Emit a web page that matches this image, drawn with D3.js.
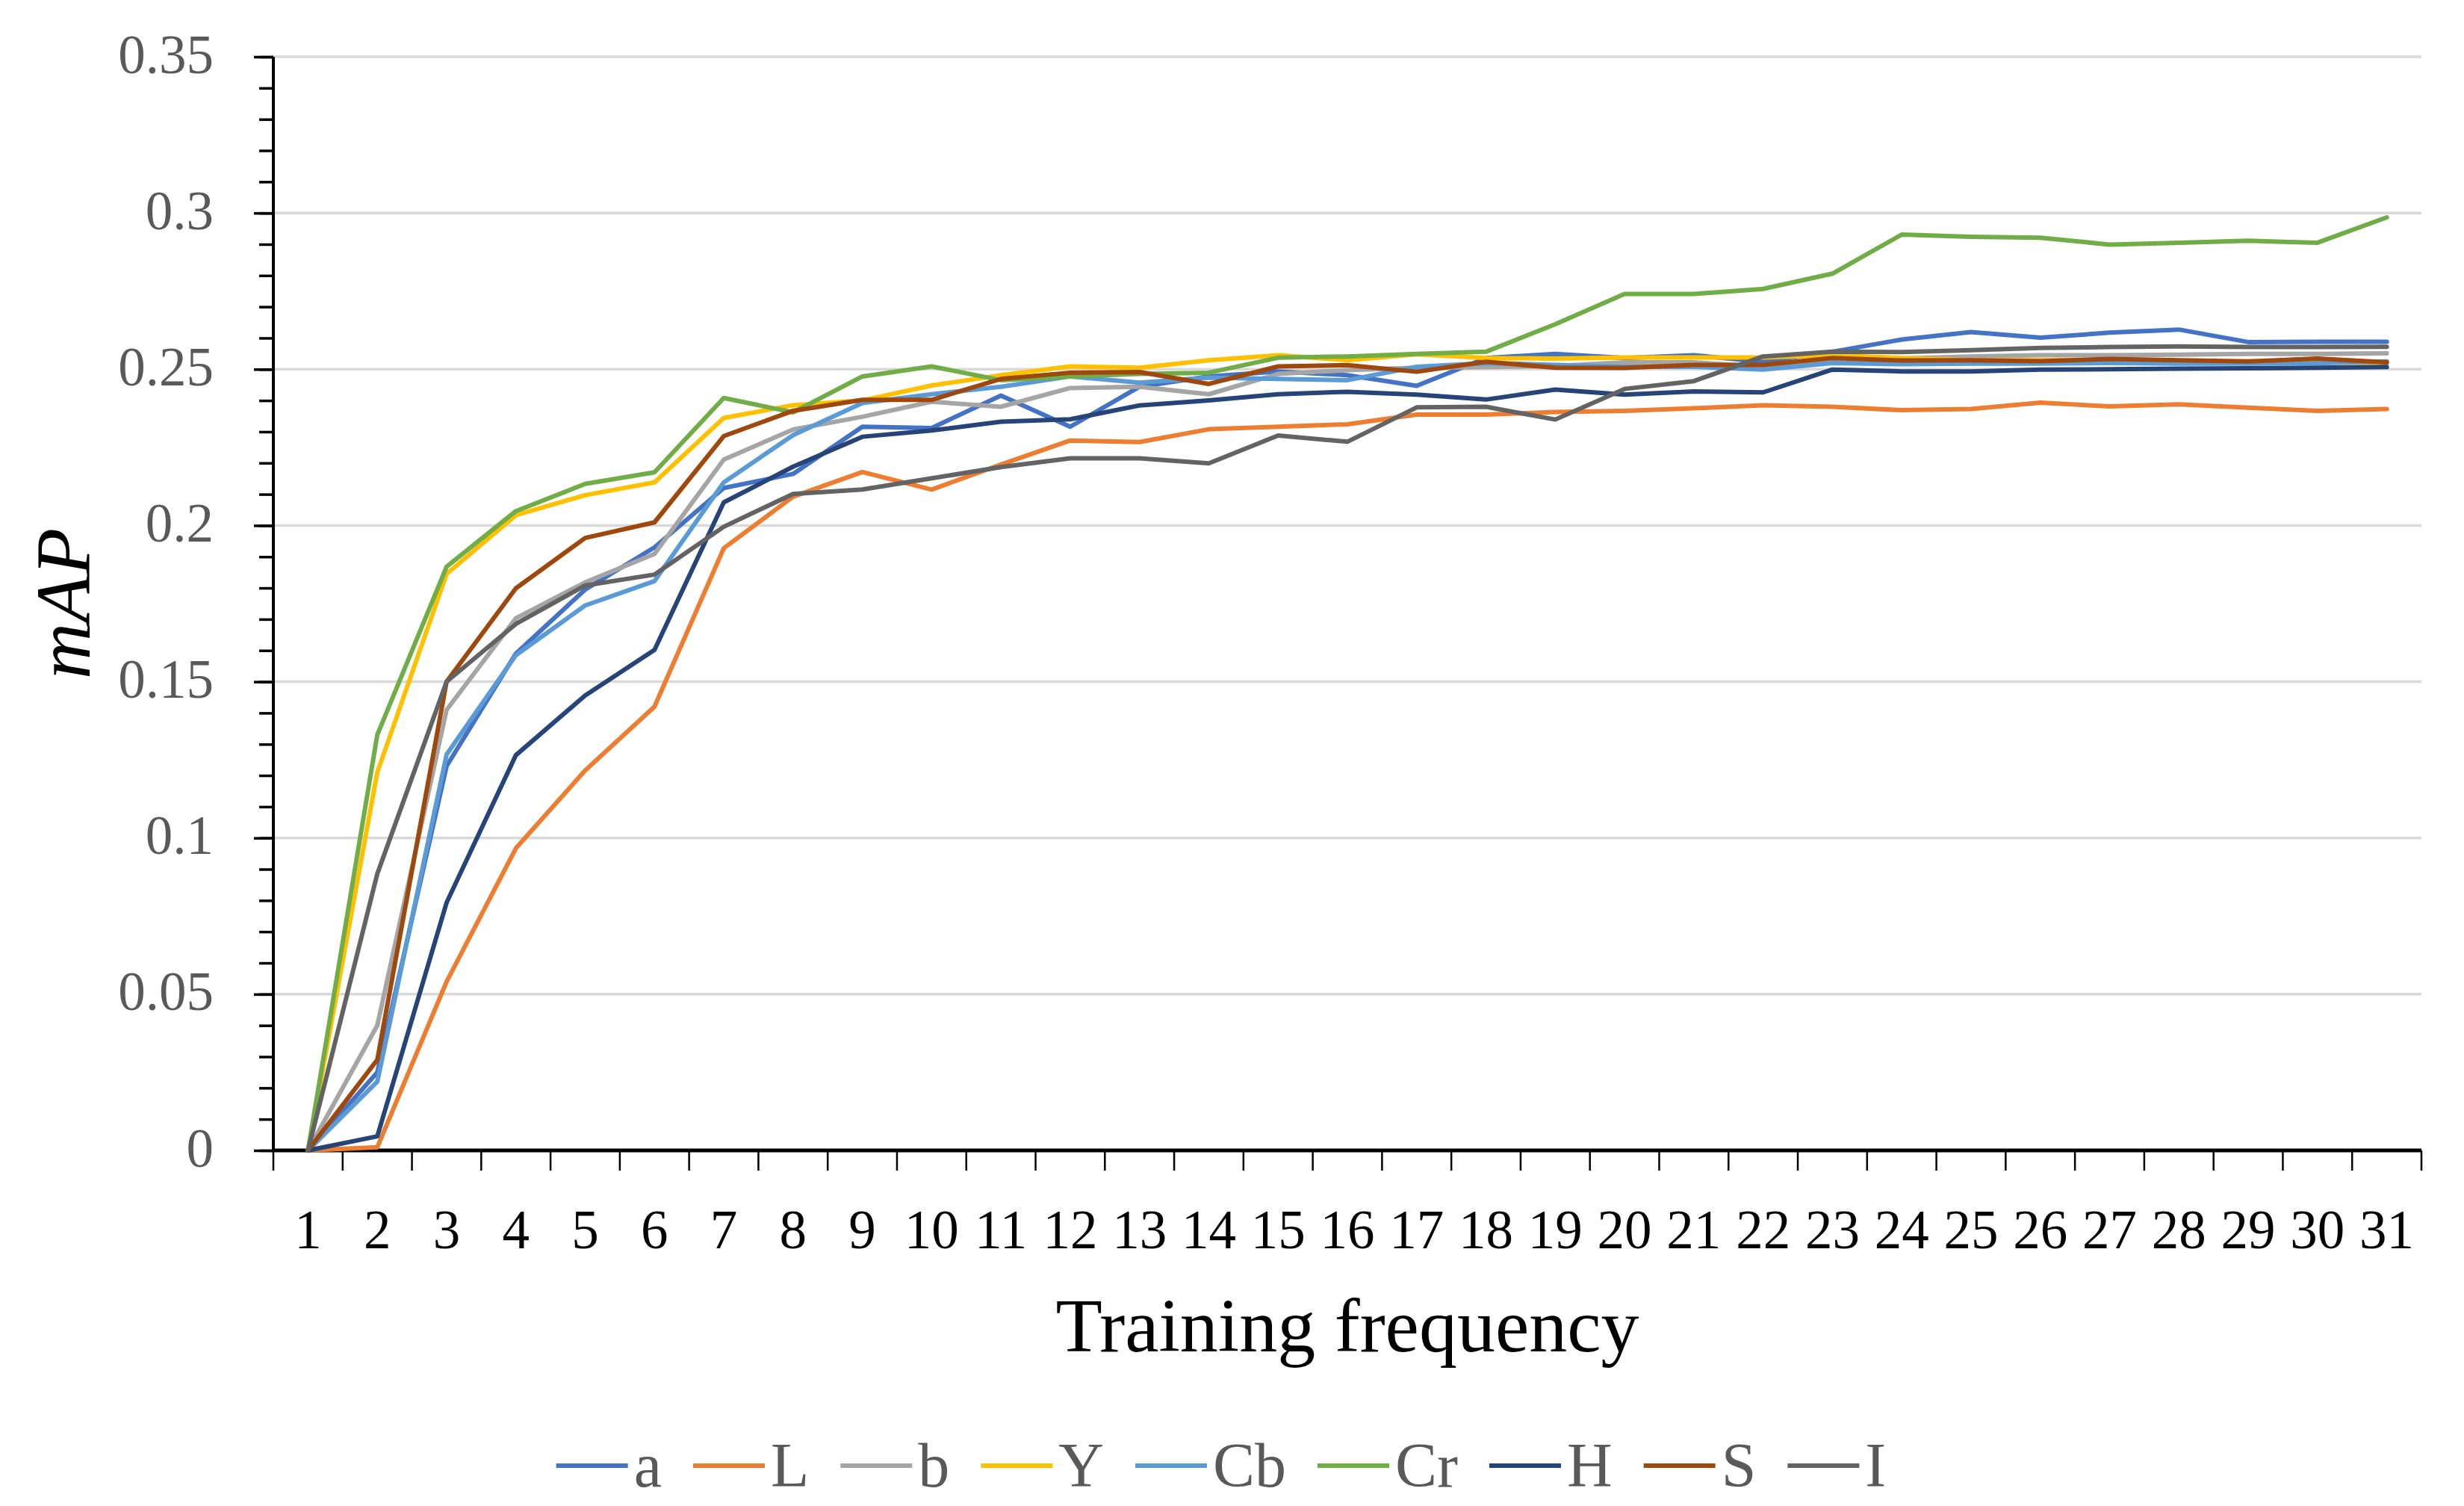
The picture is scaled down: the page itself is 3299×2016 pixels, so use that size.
<!DOCTYPE html>
<html>
<head>
<meta charset="utf-8">
<script src="https://cdn.jsdelivr.net/npm/d3@7"></script>
<style>
  html, body { margin: 0; padding: 0; background: #fff; }
  svg { display: block; }
</style>
</head>
<body>
<svg id="chart" width="3299" height="2016"></svg>
<script>
const categories = d3.range(1, 32).map(String);
const seriesNames = ["a", "L", "b", "Y", "Cb", "Cr", "H", "S", "I"];
const seriesColors = ["#4472C4", "#ED7D31", "#A5A5A5", "#FFC000", "#5B9BD5", "#70AD47", "#264478", "#9E480E", "#636363"];
const yTicks = [0, 0.05, 0.1, 0.15, 0.2, 0.25, 0.3, 0.35];
const yTickLabels = ["0", "0.05", "0.1", "0.15", "0.2", "0.25", "0.3", "0.35"];

const a_vals  = [0, 0.025, 0.123, 0.159, 0.1795, 0.193, 0.212, 0.2165, 0.2316, 0.2312, 0.2416, 0.2316, 0.2444, 0.2477, 0.2493, 0.2481, 0.2447, 0.2536, 0.2549, 0.2536, 0.2545, 0.2524, 0.2556, 0.2595, 0.2619, 0.2601, 0.2617, 0.2627, 0.2587, 0.2588, 0.2588];
const L_vals  = [0, 0.001, 0.054, 0.0967, 0.1216, 0.142, 0.1927, 0.2092, 0.2171, 0.2115, 0.2195, 0.2272, 0.2267, 0.2308, 0.2316, 0.2324, 0.2355, 0.2355, 0.2363, 0.2367, 0.2375, 0.2385, 0.238, 0.2369, 0.2373, 0.2393, 0.2381, 0.2388, 0.2377, 0.2367, 0.2373];
const b_vals  = [0, 0.040, 0.141, 0.1703, 0.1818, 0.1909, 0.2211, 0.2307, 0.2348, 0.2396, 0.238, 0.244, 0.2444, 0.242, 0.2485, 0.2497, 0.2505, 0.2507, 0.251, 0.2522, 0.2522, 0.2508, 0.253, 0.2535, 0.2541, 0.2545, 0.2545, 0.2547, 0.2549, 0.2549, 0.2551];
const Y_vals  = [0, 0.121, 0.1845, 0.2033, 0.2097, 0.2138, 0.2344, 0.2385, 0.240, 0.2448, 0.2481, 0.2509, 0.2505, 0.2529, 0.2545, 0.2529, 0.2548, 0.2536, 0.2534, 0.2538, 0.2538, 0.2538, 0.2545, 0.2536, 0.2529, 0.2529, 0.253, 0.2526, 0.2524, 0.2522, 0.252];
const Cb_vals = [0, 0.022, 0.1267, 0.1585, 0.1744, 0.1822, 0.2138, 0.2289, 0.2392, 0.242, 0.2444, 0.2477, 0.2457, 0.2473, 0.2469, 0.2465, 0.2508, 0.252, 0.2514, 0.2508, 0.2508, 0.2499, 0.252, 0.2516, 0.2518, 0.2518, 0.252, 0.2518, 0.2518, 0.2519, 0.2525];
const Cr_vals = [0, 0.133, 0.1868, 0.2046, 0.2133, 0.217, 0.2408, 0.2362, 0.2477, 0.2509, 0.2465, 0.2477, 0.2485, 0.2489, 0.2537, 0.2541, 0.2549, 0.2556, 0.2644, 0.2741, 0.2741, 0.2757, 0.2806, 0.2931, 0.2924, 0.2921, 0.2899, 0.2905, 0.2911, 0.2905, 0.2986];
const H_vals  = [0, 0.0045, 0.0793, 0.1265, 0.1456, 0.1602, 0.2074, 0.2188, 0.2284, 0.2304, 0.2332, 0.234, 0.2384, 0.24, 0.242, 0.2428, 0.2419, 0.2403, 0.2435, 0.2419, 0.2429, 0.2426, 0.2499, 0.2493, 0.2493, 0.2499, 0.250, 0.2502, 0.2503, 0.2505, 0.2507];
const S_vals  = [0, 0.029, 0.150, 0.1799, 0.196, 0.201, 0.2286, 0.2367, 0.2402, 0.2402, 0.2469, 0.2489, 0.2491, 0.2453, 0.2509, 0.2513, 0.2492, 0.2524, 0.2505, 0.2504, 0.2514, 0.2514, 0.2536, 0.2528, 0.2529, 0.2526, 0.2533, 0.2529, 0.2525, 0.2534, 0.2522];
const I_vals  = [0, 0.0885, 0.150, 0.1685, 0.1808, 0.1843, 0.1996, 0.2101, 0.2115, 0.2151, 0.2187, 0.2215, 0.2215, 0.2199, 0.2288, 0.2268, 0.2378, 0.238, 0.2339, 0.2437, 0.2462, 0.2541, 0.2556, 0.2555, 0.2561, 0.2568, 0.2571, 0.2573, 0.2571, 0.2571, 0.2572];

const seriesValues = [a_vals, L_vals, b_vals, Y_vals, Cb_vals, Cr_vals, H_vals, S_vals, I_vals];

(function draw() {
  const series = seriesNames.map((n, i) => ({ name: n, color: seriesColors[i], values: seriesValues[i] }));
  const svg = d3.select("#chart");
  const pL = 366, pR = 3242, pT = 76, pB = 1540;
  const SERIF = "'Liberation Serif', 'Times New Roman', serif";

  const x = d3.scaleBand().domain(categories).range([pL, pR]).padding(0);
  const xc = c => x(c) + x.bandwidth() / 2;
  const y = d3.scaleLinear().domain([0, 0.35]).range([pB, pT]);

  // gridlines
  svg.append("g").selectAll("line")
    .data(yTicks.filter(t => t > 0))
    .join("line")
    .attr("x1", pL).attr("x2", pR)
    .attr("y1", d => y(d)).attr("y2", d => y(d))
    .attr("stroke", "#D9D9D9").attr("stroke-width", 3.5);

  // y axis minor ticks
  const minor = d3.range(0, 36).map(v => v / 100);
  const gMinor = svg.append("g").attr("transform", `translate(${pL},0)`)
    .call(d3.axisLeft(y).tickValues(minor).tickSize(19).tickFormat(""));
  gMinor.select(".domain").remove();
  gMinor.selectAll(".tick line").attr("stroke", "#000").attr("stroke-width", 3.5);

  // y axis major ticks + labels
  const gY = svg.append("g").attr("transform", `translate(${pL},0)`)
    .call(d3.axisLeft(y).tickValues(yTicks).tickSize(26).tickPadding(54)
      .tickFormat((d, i) => yTickLabels[i]));
  gY.select(".domain").remove();
  gY.selectAll(".tick line").attr("stroke", "#000").attr("stroke-width", 3.5);
  gY.selectAll(".tick text")
    .attr("font-family", SERIF).attr("font-size", 73).attr("fill", "#595959")
    .attr("dy", null).attr("y", 21);
  svg.append("line").attr("x1", pL).attr("x2", pL).attr("y1", pT).attr("y2", pB + 2)
    .attr("stroke", "#000").attr("stroke-width", 4);

  // x axis labels
  const gX = svg.append("g").attr("transform", `translate(0,${pB})`)
    .call(d3.axisBottom(x).tickSize(0).tickPadding(0));
  gX.select(".domain").remove();
  gX.selectAll(".tick line").remove();
  gX.selectAll(".tick text")
    .attr("font-family", SERIF).attr("font-size", 73).attr("fill", "#000")
    .attr("dy", null).attr("y", 131);
  // band boundary ticks
  const boundaries = categories.map(c => x(c)).concat([pR]);
  svg.append("g").selectAll("line").data(boundaries).join("line")
    .attr("x1", d => d).attr("x2", d => d)
    .attr("y1", pB).attr("y2", pB + 27)
    .attr("stroke", "#000").attr("stroke-width", 2.5);
  svg.append("line").attr("x1", pL - 2).attr("x2", pR).attr("y1", pB).attr("y2", pB)
    .attr("stroke", "#000").attr("stroke-width", 5);

  // series lines
  const line = d3.line().x((d, i) => xc(categories[i])).y(d => y(d));
  svg.append("g").selectAll("path").data(series).join("path")
    .attr("d", d => line(d.values))
    .attr("fill", "none")
    .attr("stroke", d => d.color)
    .attr("stroke-width", 6)
    .attr("stroke-linejoin", "round")
    .attr("stroke-linecap", "round");

  // axis titles
  svg.append("text")
    .attr("x", (pL + pR) / 2).attr("y", 1809)
    .attr("text-anchor", "middle")
    .attr("font-family", SERIF).attr("font-size", 102).attr("fill", "#000")
    .text("Training frequency");
  svg.append("text")
    .attr("transform", `translate(120,${(pT + pB) / 2}) rotate(-90)`)
    .attr("text-anchor", "middle")
    .attr("font-family", SERIF).attr("font-size", 104).attr("font-style", "italic").attr("fill", "#000")
    .text("mAP");

  // legend
  const legend = svg.append("g");
  const swW = 96, swGap = 8, itemGap = 42, legY = 1962;
  let cx = 0;
  series.forEach(s => {
    const g = legend.append("g");
    g.append("line").attr("x1", 0).attr("x2", swW).attr("y1", 0).attr("y2", 0)
      .attr("stroke", s.color).attr("stroke-width", 6);
    const t = g.append("text").attr("x", swW + swGap).attr("y", 28)
      .attr("font-family", SERIF).attr("font-size", 84).attr("fill", "#595959").text(s.name);
    const w = swW + swGap + t.node().getComputedTextLength();
    g.attr("transform", `translate(${cx},${legY})`);
    cx += w + itemGap;
  });
  const totalW = cx - itemGap;
  legend.attr("transform", `translate(${1635 - totalW / 2},0)`);
})();
</script>
</body>
</html>
